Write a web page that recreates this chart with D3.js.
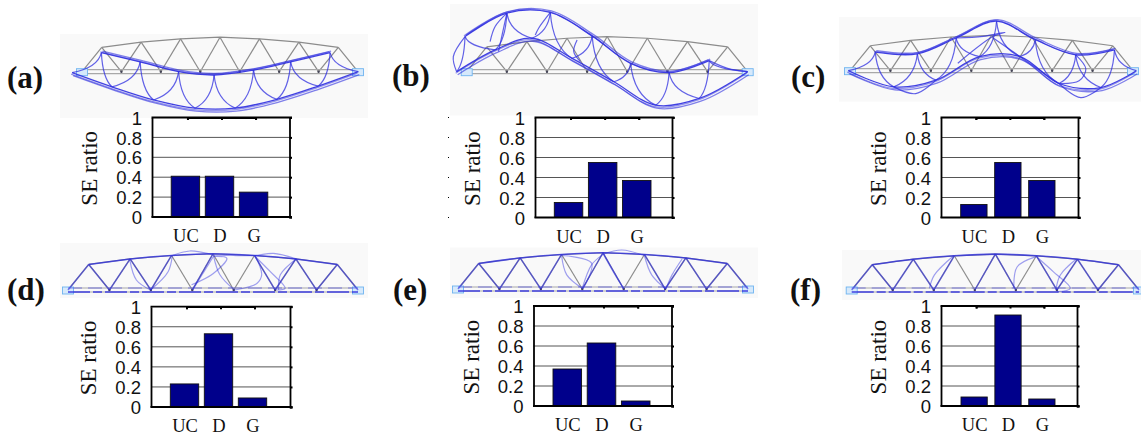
<!DOCTYPE html>
<html lang="en">
<head>
<meta charset="UTF-8">
<title>SE ratio by mode shape</title>
<script src="https://d3js.org/d3.v7.min.js"></script>
<style>
  body { margin: 0; background: #fff; }
  svg { display: block; font-family: "Liberation Serif", serif; }
  .tick-lbl { font-size: 18.5px; fill: #111; }
  .ylab { font-size: 23px; fill: #111; }
  .panel-lbl { font-size: 31px; font-weight: bold; fill: #111; }
</style>
</head>
<body>
<div id="chart"></div>
<script>
// SE ratio per panel
const categories = ['UC', 'D', 'G'];
const yTicks = [0, 0.2, 0.4, 0.6, 0.8, 1];
const valuesA = [0.41, 0.41, 0.25];
const valuesB = [0.15, 0.55, 0.37];
const valuesC = [0.13, 0.55, 0.37];
const valuesD = [0.23, 0.73, 0.09];
const valuesE = [0.37, 0.63, 0.05];
const valuesF = [0.09, 0.91, 0.07];

// truss nodes, in truss units (one bay = 120, y up from the lower chord)
const restTop = [[60, 74], [180, 90], [300, 100], [420, 105], [540, 100], [660, 90], [780, 74]];
const restBottom = [[0, 0], [120, 0], [240, 0], [360, 0], [480, 0], [600, 0], [720, 0], [840, 0]];

const topA = [[59, 58], [177, 30], [294, 0], [402, -10], [522, 5], [635, 30], [755, 58]];
const bottomA = [[-30, -3], [91, -46], [218, -86], [344, -111], [466, -111], [593, -84], [719, -44], [841, 0]];
const topB = [[-5, 105], [120, 175], [250, 177], [375, 107], [490, 25], [605, -3], [725, 33]];
const bottomB = [[-30, 0], [85, 65], [195, 100], [315, 40], [440, -30], [565, -100], [695, -80], [840, 0]];
const topC = [[75, 55], [200, 50], [315, 97], [435, 147], [550, 92], [670, 47], [785, 62]];
const bottomC = [[-5, 0], [130, -48], [255, -28], [385, 42], [505, 42], [620, -38], [745, -50], [850, 0]];

// members that buckled locally, on top of the regular members
const extraB = [
  [[-30, 0], [-40, 45], [-5, 105]],
  [[95, 60], [120, 175]],
  [[70, 90], [85, 135], [120, 175]],
  [[250, 177], [215, 130], [205, 110]],
  [[330, 95], [320, 60], [340, 30]],
  [[725, 33], [780, 10], [840, 0]]
];
const extraC = [
  [[130, -48], [195, -68], [255, -28]],
  [[620, -38], [685, -80], [745, -50]],
  [[320, 22], [425, 102], [460, 114], [395, 102], [315, 97]],
  [[425, 97], [620, -38]],
  [[670, 47], [700, 5], [680, -30], [620, -38]]
];
const extraD = [
  [[421, 97], [382, 34], [361, 0]],
  [[421, 97], [460, 92], [421, 48], [358, 15]],
  [[542, 100], [561, 44], [547, 19], [482, 0]],
  [[661, 90], [615, 44], [610, 0]],
  [[179, 87], [198, 29], [239, 0]],
  [[302, 100], [290, 53], [239, 0]],
  [[421, 102], [440, 44], [482, 0]],
  [[542, 97], [586, 53], [629, 5], [603, 0]],
  [[302, 100], [353, 113], [421, 102]],
  [[421, 102], [479, 100], [542, 100], [595, 106], [661, 90]]
];
const extraE = [
  [[300, 97], [387, 75], [363, 2]],
  [[300, 97], [315, 41], [360, 2]],
  [[421, 101], [387, 70], [360, 2]],
  [[421, 101], [455, 41], [481, 0]],
  [[540, 97], [561, 41], [602, 0]],
  [[649, 87], [620, 41], [602, 0]],
  [[421, 101], [474, 113], [540, 97]]
];
const extraF = [
  [[537, 97], [484, 68], [474, 5]],
  [[537, 100], [590, 53], [639, 5], [600, -5]],
  [[656, 90], [610, 44], [597, 0]],
  [[298, 100], [242, 44], [227, 5]]
];

// layout of each panel: picture box, truss frame, plot box
const panels = [
  { label: '(a)', labelX: 7, labelY: 88, values: valuesA, top: topA, bottom: bottomA, extra: [], bend: true, grayDiag: [],
    bg: [60, 34, 308, 84], truss: [82, 358, 71.7], plot: [152, 117.5, 137.5, 99.5], barPad: 0.165, barInset: [19.2, 115.8] },
  { label: '(b)', labelX: 392, labelY: 86, values: valuesB, top: topB, bottom: bottomB, extra: extraB, bend: true, grayDiag: [],
    bg: [450, 4, 308, 111.5], truss: [466.7, 747.7, 71.7], plot: [535, 117.5, 137, 100], barPad: 0.165, barInset: [19.3, 116] },
  { label: '(c)', labelX: 791, labelY: 87, values: valuesC, top: topC, bottom: bottomC, extra: extraC, bend: true, grayDiag: [],
    bg: [839, 17, 302, 84.7], truss: [850, 1133, 70.7], plot: [941, 117.5, 137, 100], barPad: 0.225, barInset: [19.7, 114] },
  { label: '(d)', labelX: 7, labelY: 300, values: valuesD, top: restTop, bottom: restBottom, extra: extraD, bend: false, grayDiag: [5, 7, 8],
    bg: [60, 243, 308, 55], truss: [68, 358, 290], plot: [151, 306.7, 139, 100.3], barPad: 0.165, barInset: [19.3, 115.7] },
  { label: '(e)', labelX: 393, labelY: 300, values: valuesE, top: restTop, bottom: restBottom, extra: extraE, bend: false, grayDiag: [5, 8],
    bg: [450, 247.5, 308, 50.5], truss: [458, 748, 289], plot: [533.5, 306, 138, 100], barPad: 0.165, barInset: [19.5, 116.5] },
  { label: '(f)', labelX: 790, labelY: 300, values: valuesF, top: restTop, bottom: restBottom, extra: extraF, bend: false, grayDiag: [5, 8],
    bg: [842, 250, 299, 50], truss: [851.7, 1139, 290], plot: [941, 306, 136, 100], barPad: 0.225, barInset: [20, 114] }
];

const width = 1141;
const height = 438;
const svg = d3.select('#chart').append('svg')
  .attr('width', width)
  .attr('height', height);

const defs = svg.append('defs');
defs.append('filter').attr('id', 'soft')
  .append('feGaussianBlur').attr('stdDeviation', 0.4);

// order of the diagonals: b0-t0, t0-b1, b1-t1 ...
function diagonals(top, bottom) {
  const out = [];
  top.forEach((t, i) => {
    out.push([t, bottom[i]]);
    out.push([t, bottom[i + 1]]);
  });
  return out;
}

function drawTruss(g, p) {
  const [left, right, base] = p.truss;
  const bay = (right - left) / 7;
  const xs = d3.scaleLinear().domain([0, 840]).range([left, right]);
  const ys = d3.scaleLinear().domain([0, 120]).range([base, base - bay]);
  const smooth = d3.line().x(d => xs(d[0])).y(d => ys(d[1])).curve(d3.curveCatmullRom.alpha(0.5));
  const straight = d3.line().x(d => xs(d[0])).y(d => ys(d[1]));

  g.append('rect')
    .attr('x', p.bg[0]).attr('y', p.bg[1])
    .attr('width', p.bg[2]).attr('height', p.bg[3])
    .attr('fill', '#f9f9f9');

  const art = g.append('g').attr('filter', 'url(#soft)');

  // undeformed truss
  const rest = art.append('g').attr('fill', 'none').attr('stroke', '#8c8c8c').attr('stroke-width', 1.2);
  rest.append('path').attr('d', straight(restTop));
  diagonals(restTop, restBottom).forEach(d => rest.append('path').attr('d', straight(d)));
  [-2, 2].forEach(off => {
    rest.append('path').attr('d', straight(restBottom)).attr('transform', `translate(0,${off})`).attr('stroke', '#a8a8a8');
  });
  art.selectAll('circle.node').data(restBottom).join('circle')
    .attr('class', 'node')
    .attr('cx', d => xs(d[0])).attr('cy', d => ys(d[1]))
    .attr('r', 1.2).attr('fill', '#445');

  // supports
  [0, 840].forEach(sx => {
    art.append('rect')
      .attr('x', xs(sx) - 5.5).attr('y', base - 3)
      .attr('width', 11).attr('height', 7)
      .attr('fill', '#d6e9fb').attr('stroke', '#6fb4f0').attr('stroke-width', 0.9);
  });

  const blue = art.append('g').attr('fill', 'none').attr('stroke', '#2f2fe0');

  if (p.bend) {
    // deformed shape, the chords show as a few close strands
    [[0, 0, 0.9], [1, 3, 0.6], [-1, 1.5, 0.5]].forEach(([dx, dy, op]) => {
      blue.append('path').attr('d', smooth(p.bottom))
        .attr('transform', `translate(${dx},${dy})`)
        .attr('stroke-width', 1.3).attr('opacity', op);
      blue.append('path').attr('d', smooth(p.top))
        .attr('transform', `translate(${dx},${-dy * 0.5})`)
        .attr('stroke-width', 1.3).attr('opacity', op);
    });
    diagonals(p.top, p.bottom).forEach(([t, b]) => {
      const tx = xs(t[0]), ty = ys(t[1]), bx = xs(b[0]), by = ys(b[1]);
      const pth = d3.path();
      pth.moveTo(tx, ty);
      pth.quadraticCurveTo(tx + 0.12 * (bx - tx), ty + 0.75 * (by - ty), bx, by);
      blue.append('path').attr('d', pth.toString()).attr('stroke-width', 1.2).attr('opacity', 0.75);
    });
  } else {
    // nearly undeformed: blue sits on the gray members
    blue.append('path').attr('d', smooth(p.top)).attr('stroke-width', 1.6).attr('opacity', 0.8);
    diagonals(p.top, p.bottom).forEach((d, i) => {
      if (p.grayDiag.includes(i)) return;
      blue.append('path').attr('d', straight(d)).attr('stroke-width', 1.5).attr('opacity', 0.6);
    });
    blue.append('path').attr('d', straight(p.bottom)).attr('transform', 'translate(0,2)')
      .attr('stroke-width', 1.4).attr('opacity', 0.9).attr('stroke-dasharray', '22,3,9,3');
    blue.append('path').attr('d', straight(p.bottom)).attr('transform', 'translate(0,-2)')
      .attr('stroke-width', 1.2).attr('opacity', 0.55).attr('stroke-dasharray', '14,6');
  }

  p.extra.forEach(c => {
    blue.append('path').attr('d', smooth(c)).attr('stroke-width', 1.2).attr('opacity', p.bend ? 0.75 : 0.45);
  });
}

function drawBars(g, p) {
  const [left, top, w, h] = p.plot;
  const right = left + w;
  const bottom = top + h;

  const x = d3.scaleBand()
    .domain(categories)
    .range([left + p.barInset[0], left + p.barInset[1]])
    .paddingInner(p.barPad)
    .paddingOuter(0);
  const y = d3.scaleLinear().domain([0, 1]).range([bottom, top]);

  // gridlines
  g.append('g')
    .selectAll('line')
    .data(yTicks.filter(t => t > 0 && t < 1))
    .join('line')
    .attr('x1', left).attr('x2', right)
    .attr('y1', d => y(d)).attr('y2', d => y(d))
    .attr('stroke', '#555').attr('stroke-width', 1);

  g.append('g')
    .selectAll('rect')
    .data(p.values)
    .join('rect')
    .attr('x', (d, i) => x(categories[i]))
    .attr('y', d => y(d))
    .attr('width', x.bandwidth())
    .attr('height', d => bottom - y(d))
    .attr('fill', '#00008b')
    .attr('stroke', '#111')
    .attr('stroke-width', 0.9);

  // left axis with labels
  const yAxis = g.append('g')
    .attr('transform', `translate(${left},0)`)
    .call(d3.axisLeft(y).tickValues(yTicks).tickSize(0).tickPadding(10).tickFormat(d => d));
  yAxis.selectAll('text').attr('class', 'tick-lbl').attr('font-family', null).attr('font-size', null).attr('dy', '0.36em');

  // right axis, ticks stick out a little
  g.append('g')
    .attr('transform', `translate(${right},0)`)
    .call(d3.axisRight(y).tickValues(yTicks).tickSize(2.5).tickFormat(''));

  // top axis ticks, sitting just inside the frame
  const tickX = d3.scalePoint().domain(categories).range([x('UC') + x.bandwidth() / 2 + 2, x('G') + x.bandwidth() / 2 + 2]);
  g.append('g')
    .attr('transform', `translate(0,${top})`)
    .call(d3.axisTop(tickX).tickSize(-2.5).tickFormat(''));

  g.selectAll('.domain').attr('stroke', '#000').attr('stroke-width', 1.8);
  g.selectAll('.tick line').attr('stroke', '#000').attr('stroke-width', 2);

  // the band scale stops short of the plot box, so close the frame by hand
  [top, bottom].forEach(fy => {
    g.append('line').attr('x1', left - 0.5).attr('x2', right + 2.5).attr('y1', fy).attr('y2', fy)
      .attr('stroke', '#000').attr('stroke-width', 1.8);
  });

  g.append('g')
    .selectAll('text')
    .data(categories)
    .join('text')
    .attr('class', 'tick-lbl')
    .attr('text-anchor', 'middle')
    .attr('x', d => x(d) + x.bandwidth() / 2 + 0.5)
    .attr('y', bottom + 25)
    .text(d => d);

  g.append('text')
    .attr('class', 'ylab')
    .attr('text-anchor', 'middle')
    .attr('transform', `translate(${left - 55},${(top + bottom) / 2 + 1}) rotate(-90)`)
    .text('SE ratio');
}

panels.forEach(p => {
  const g = svg.append('g');
  drawTruss(g.append('g'), p);
  drawBars(g.append('g'), p);
  g.append('text')
    .attr('class', 'panel-lbl')
    .attr('x', p.labelX)
    .attr('y', p.labelY)
    .text(p.label);
});

// stray marks left of panel (b) in the original
const strayY = d3.scaleLinear().domain([0, 1]).range([217.5, 117.5]);
svg.append('g')
  .selectAll('line')
  .data(yTicks)
  .join('line')
  .attr('x1', 448).attr('x2', 449)
  .attr('y1', d => strayY(d)).attr('y2', d => strayY(d))
  .attr('stroke', '#000');
</script>
</body>
</html>
